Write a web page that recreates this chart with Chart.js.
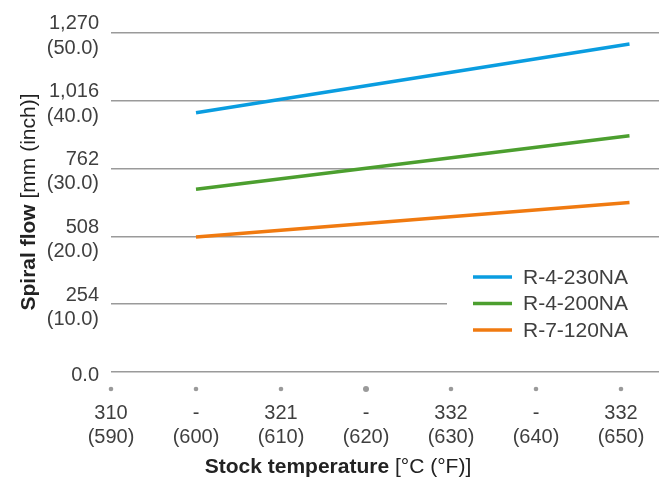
<!DOCTYPE html>
<html>
<head>
<meta charset="utf-8">
<script src="https://cdn.jsdelivr.net/npm/chart.js@4.4.1/dist/chart.umd.min.js"></script>
<style>
  html, body { margin: 0; padding: 0; background: #fff; }
  #wrap { width: 661px; height: 479px; }
</style>
</head>
<body>
<div id="wrap"><canvas id="myChart"></canvas></div>
<script>
// x axis: stock temperature ticks
const tempF = [590, 600, 610, 620, 630, 640, 650]
const celsiusLabels = ['310', '-', '321', '-', '332', '-', '332']
const fahrenheitLabels = ['(590)', '(600)', '(610)', '(620)', '(630)', '(640)', '(650)']

// y axis: spiral flow ticks
const yTickValues = [0, 254, 508, 762, 1016, 1270]
const yTickMm = ['0.0', '254', '508', '762', '1,016', '1,270']
const yTickInch = ['', '(10.0)', '(20.0)', '(30.0)', '(40.0)', '(50.0)']

// series (start / end of each line)
const seriesNames = ['R-4-230NA', 'R-4-200NA', 'R-7-120NA']
const lineTemps = [600, 651]
const r4_230 = [971, 1229]
const r4_200 = [685, 885]
const r7_120 = [506, 635]
const seriesColors = ['#0a9de0', '#4c9f2f', '#f07a10']

const FONT = '"Liberation Sans", Arial, sans-serif'
const TEXT = '#3f3f3f'

const toPoints = vals => vals.map((v, i) => ({ x: lineTemps[i], y: v }))

const extras = {
  id: 'extras',
  afterDatasetsDraw(chart) {
    const ctx = chart.ctx
    // legend box covers gridlines
    ctx.save()
    ctx.fillStyle = '#fff'
    ctx.fillRect(447, 262, 214, 82)
    ctx.font = '21px ' + FONT
    ctx.textBaseline = 'middle'
    chart.data.datasets.forEach((ds, i) => {
      const y = 277 + i * 26.5
      ctx.strokeStyle = ds.borderColor
      ctx.lineWidth = 3.5
      ctx.beginPath()
      ctx.moveTo(473, y)
      ctx.lineTo(512, y)
      ctx.stroke()
      ctx.fillStyle = TEXT
      ctx.fillText(ds.label, 523, y + 1)
    })
    ctx.restore()
  },
  afterDraw(chart) {
    const ctx = chart.ctx
    const xs = chart.scales.x
    ctx.save()
    // tick dots
    ctx.fillStyle = '#9a9a9a'
    tempF.forEach(v => {
      ctx.beginPath()
      ctx.arc(xs.getPixelForValue(v), 389, v === 620 ? 3 : 2.3, 0, Math.PI * 2)
      ctx.fill()
    })
    // axis titles: bold part + regular part
    const title = (bold, rest, cx, cy, rot) => {
      ctx.save()
      ctx.translate(cx, cy)
      ctx.rotate(rot)
      ctx.textBaseline = 'middle'
      ctx.fillStyle = '#222'
      ctx.font = 'bold 21px ' + FONT
      const wb = ctx.measureText(bold).width
      ctx.font = '21px ' + FONT
      const wr = ctx.measureText(rest).width
      let x = -(wb + wr) / 2
      ctx.font = 'bold 21px ' + FONT
      ctx.fillText(bold, x, 0)
      ctx.font = '21px ' + FONT
      ctx.fillText(rest, x + wb, 0)
      ctx.restore()
    }
    title('Spiral flow', ' [mm (inch)]', 29, 202, -Math.PI / 2)
    title('Stock temperature', ' [°C (°F)]', 338, 467, 0)
    ctx.restore()
  }
}

const myChartRef = document.getElementById('myChart').getContext('2d')
new Chart(myChartRef, {
  type: 'line',
  data: {
    datasets: [
      { label: seriesNames[0], data: toPoints(r4_230), borderColor: seriesColors[0] },
      { label: seriesNames[1], data: toPoints(r4_200), borderColor: seriesColors[1] },
      { label: seriesNames[2], data: toPoints(r7_120), borderColor: seriesColors[2] }
    ].map(ds => Object.assign(ds, { borderWidth: 3.5, pointRadius: 0, fill: false, tension: 0 }))
  },
  options: {
    responsive: true,
    maintainAspectRatio: false,
    animation: false,
    layout: { padding: { top: 33, right: 2, left: 0, bottom: 0 } },
    plugins: { legend: { display: false }, tooltip: { enabled: false } },
    scales: {
      x: {
        type: 'linear',
        min: 590,
        max: 590 + 548 / 8.5,
        grid: { display: false },
        border: { display: false },
        afterBuildTicks: s => { s.ticks = tempF.map(v => ({ value: v })) },
        afterFit: s => { s.height = 107; s.paddingLeft = 0; s.paddingRight = 0 },
        ticks: {
          padding: 21,
          maxRotation: 0,
          autoSkip: false,
          color: TEXT,
          font: { family: FONT, size: 20, lineHeight: 1.22 },
          callback: v => {
            const i = tempF.indexOf(v)
            return i < 0 ? '' : [celsiusLabels[i], fahrenheitLabels[i]]
          }
        }
      },
      y: {
        min: 0,
        max: 1270,
        afterBuildTicks: s => { s.ticks = yTickValues.map(v => ({ value: v })) },
        afterFit: s => { s.width = 111; s.paddingTop = 0; s.paddingBottom = 0 },
        grid: { color: '#9a9a9a', lineWidth: 1.5, drawTicks: false },
        border: { display: false },
        ticks: {
          padding: 12,
          labelOffset: 3,
          color: TEXT,
          font: { family: FONT, size: 20, lineHeight: 1.22 },
          callback: v => {
            const i = yTickValues.indexOf(v)
            if (i < 0) return ''
            return yTickInch[i] ? [yTickMm[i], yTickInch[i]] : yTickMm[i]
          }
        }
      }
    }
  },
  plugins: [extras]
})
</script>
</body>
</html>
